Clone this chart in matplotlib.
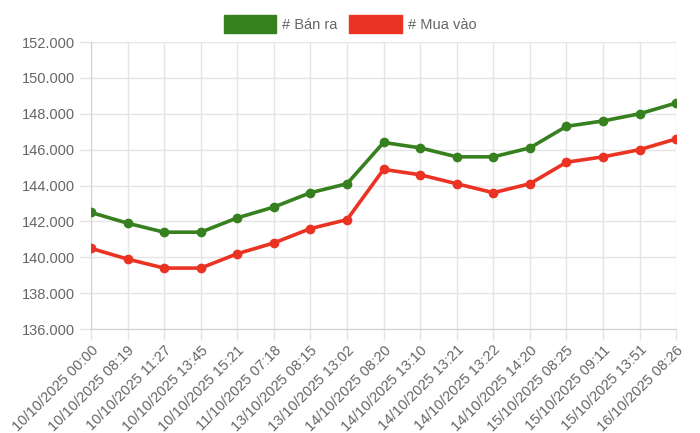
import matplotlib.pyplot as plt
from matplotlib.ticker import FuncFormatter
from matplotlib.patches import Rectangle

labels = ["10/10/2025 00:00", "10/10/2025 08:19", "10/10/2025 11:27", "10/10/2025 13:45",
          "10/10/2025 15:21", "11/10/2025 07:18", "13/10/2025 08:15", "13/10/2025 13:02",
          "14/10/2025 08:20", "14/10/2025 13:10", "14/10/2025 13:21", "14/10/2025 13:22",
          "14/10/2025 14:20", "15/10/2025 08:25", "15/10/2025 09:11", "15/10/2025 13:51",
          "16/10/2025 08:26"]
ban_ra = [142500, 141900, 141400, 141400, 142200, 142800, 143600, 144100, 146400,
          146100, 145600, 145600, 146100, 147300, 147600, 148000, 148600]
mua_vao = [140500, 139900, 139400, 139400, 140200, 140800, 141600, 142100, 144900,
           144600, 144100, 143600, 144100, 145300, 145600, 146000, 146600]
series_names = ["# Bán ra", "# Mua vào"]

green = "#36801f"
red = "#ea3323"
text_c = "#666666"
grid_c = "#e5e5e5"

plt.rcParams['font.family'] = ['Liberation Sans', 'DejaVu Sans']

fig = plt.figure(figsize=(7, 4.33), dpi=100)
ax = fig.add_axes([0.13, 0.24, 0.836, 0.663])

x = range(len(labels))
ax.plot(x, ban_ra, color=green, linewidth=2.6, marker='o', markersize=6, zorder=3)
ax.plot(x, mua_vao, color=red, linewidth=2.6, marker='o', markersize=6, zorder=3)

ax.set_xlim(0, len(labels) - 1)
ax.set_ylim(136000, 152000)
ax.set_yticks(range(136000, 152001, 2000))
ax.yaxis.set_major_formatter(FuncFormatter(lambda v, p: f"{int(v):,}".replace(",", ".")))
ax.set_xticks(list(x))
ax.set_xticklabels(labels, rotation=45, ha='right', rotation_mode='anchor')

# chart.js-like grid
ax.grid(True, color=grid_c, linewidth=1)
ax.set_axisbelow(True)
for s in ['top', 'right']:
    ax.spines[s].set_visible(False)
for s in ['left', 'bottom']:
    ax.spines[s].set_color("#d0d0d0")
ax.tick_params(axis='both', colors=grid_c, labelcolor=text_c, labelsize=10.5, length=8, width=1)
ax.tick_params(axis='x', pad=2)

handles = [Rectangle((0, 0), 1, 1, facecolor=c, edgecolor=c) for c in [green, red]]
fig.legend(handles, series_names, loc='upper center', bbox_to_anchor=(0.5, 0.995),
           ncol=2, frameon=False, fontsize=10.5, handlelength=3.6, handleheight=1.5,
           columnspacing=0.8, handletextpad=0.4, labelcolor=text_c)

fig.savefig("out.png", dpi=100)
